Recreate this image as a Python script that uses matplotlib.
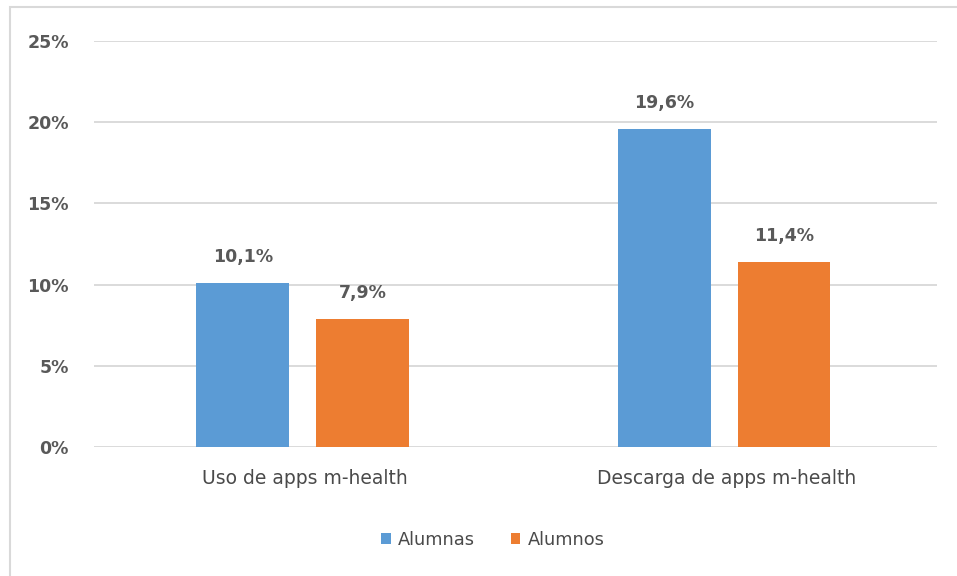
import matplotlib.pyplot as plt
import numpy as np
from matplotlib.patches import Rectangle

categories = ['Uso de apps m-health', 'Descarga de apps m-health']
series_names = ['Alumnas', 'Alumnos']
alumnas = [10.1, 19.6]
alumnos = [7.9, 11.4]
y_ticks = [0, 5, 10, 15, 20, 25]

colors = ['#5B9BD5', '#ED7D31']
text_color = '#595959'

plt.rcParams['font.family'] = ['DejaVu Sans']

fig = plt.figure(figsize=(9.57, 5.76), dpi=100)
ax = fig.add_axes([94 / 957, 1 - 447 / 576, 843 / 957, 406 / 576])

x = np.arange(len(categories))
width = 0.22
offset = 0.142

for i, (vals, name) in enumerate(zip([alumnas, alumnos], series_names)):
    pos = x + (offset if i else -offset) - 0.005
    ax.bar(pos, vals, width, color=colors[i], label=name, zorder=3)
    for px, v in zip(pos, vals):
        ax.text(px, v + 1.6, f'{v:.1f}%'.replace('.', ','), ha='center', va='center',
                fontsize=12.5, fontweight='bold', color=text_color)

ax.set_xlim(-0.5, 1.5)
ax.set_ylim(0, 25)
ax.set_yticks(y_ticks)
ax.set_yticklabels([f'{t}%' for t in y_ticks], fontsize=12.5, fontweight='bold', color=text_color)
ax.set_xticks(x)
ax.set_xticklabels(categories, fontsize=13.5, color='#4a4a4a')
ax.tick_params(axis='both', length=0)
ax.tick_params(axis='y', pad=18)
ax.tick_params(axis='x', pad=16)
ax.grid(axis='y', color='#D4D4D4', linewidth=1.2, zorder=0)
for side in ax.spines.values():
    side.set_visible(False)

ax.legend(loc='center', bbox_to_anchor=(0.473, -0.228), ncol=2, frameon=False,
          fontsize=12.8, handlelength=0.55, handleheight=0.55, handletextpad=0.4,
          columnspacing=2.0, labelcolor='#4a4a4a')

# chart frame, only top and left edges fall inside the canvas
fig.patches.append(Rectangle((10 / 957, -0.1), 1.2, 1 - 7 / 576 + 0.1,
                             transform=fig.transFigure, fill=False,
                             edgecolor='#D9D9D9', linewidth=1.5))

fig.savefig('out.png', dpi=100)
